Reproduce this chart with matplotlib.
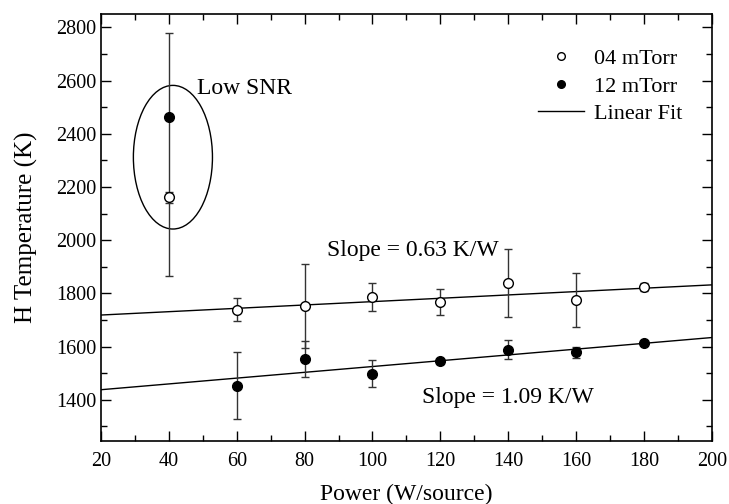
import numpy as np
import matplotlib
matplotlib.use('Agg')
import matplotlib.pyplot as plt
from matplotlib.patches import Ellipse
from matplotlib.lines import Line2D
from matplotlib.ticker import MultipleLocator

plt.rcParams['font.family'] = ['Liberation Serif', 'DejaVu Serif']
plt.rcParams['mathtext.fontset'] = 'stix'

# ---- data ----
power = [40, 60, 80, 100, 120, 140, 160, 180]

t04 = [2161, 1738, 1753, 1787, 1767, 1840, 1775, 1824]
err04 = [20, 43, 158, 53, 48, 127, 102, 15]

t12 = [2462, 1453, 1554, 1498, 1544, 1588, 1578, 1613]
err12_lo = [596, 127, 68, 50, 10, 35, 20, 8]
err12_hi = [318, 127, 68, 50, 10, 35, 20, 8]

# linear fits (slope K/W, intercept K)
fit04 = (0.63, 1706)
fit12 = (1.09, 1416)

fig = plt.figure(figsize=(7.29, 5.04), dpi=100)
ax = fig.add_axes([0.1385, 0.125, 0.838, 0.847])

ax.errorbar(power, t04, yerr=err04, fmt='o', color='black', mfc='white',
            mec='black', ms=7, ecolor='0.2', elinewidth=1, capsize=3, zorder=3)
ax.errorbar(power, t12, yerr=[err12_lo, err12_hi], fmt='o', color='black',
            ms=7, ecolor='0.2', elinewidth=1, capsize=3, zorder=3)

for slope, icpt in (fit04, fit12):
    ax.axline((0, icpt), slope=slope, color='black', lw=1, zorder=2)

ax.add_patch(Ellipse((41.2, 2312), 23.3, 540, fill=False, ec='black', lw=1))
ax.text(48.2, 2570, 'Low SNR', fontsize=17, va='center', ha='left')
ax.text(86.5, 1963, 'Slope = 0.63 K/W', fontsize=17, va='center', ha='left')
ax.text(114.5, 1407, 'Slope = 1.09 K/W', fontsize=17, va='center', ha='left')

ax.set_xlim(20, 200)
ax.set_ylim(1245, 2850)
ax.xaxis.set_major_locator(MultipleLocator(20))
ax.xaxis.set_minor_locator(MultipleLocator(10))
ax.yaxis.set_minor_locator(MultipleLocator(100))
ax.set_yticks([1400, 1600, 1800, 2000, 2200, 2400, 2600, 2800])
ax.tick_params(which='both', direction='in', top=True, right=True, labelsize=14.5)
ax.tick_params(which='major', length=7, width=1)
ax.tick_params(which='minor', length=4, width=1)
ax.tick_params(axis='x', pad=8)
for s in ax.spines.values():
    s.set_linewidth(1.2)

ax.set_xlabel('Power (W/source)', fontsize=17, labelpad=9)
ax.set_ylabel('H Temperature (K)', fontsize=18, labelpad=13)

handles = [
    Line2D([], [], ls='none', marker='o', mfc='white', mec='black', ms=5.5),
    Line2D([], [], ls='none', marker='o', color='black', ms=5.5),
    Line2D([], [], color='black', lw=1),
]
ax.legend(handles, ['04 mTorr', '12 mTorr', 'Linear Fit'], loc='upper right',
          bbox_to_anchor=(0.985, 0.966), frameon=False, fontsize=16,
          handlelength=2.1, handletextpad=0.45, labelspacing=0.31)

fig.savefig('out.png', dpi=100)
